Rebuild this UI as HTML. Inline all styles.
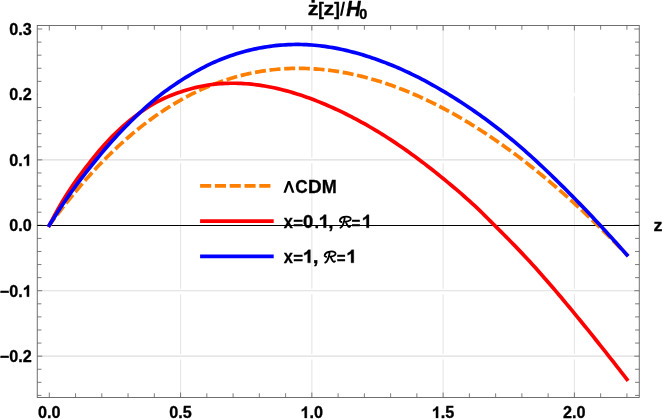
<!DOCTYPE html>
<html><head><meta charset="utf-8"><title>plot</title>
<style>
html,body{margin:0;padding:0;background:#fff;}
body{width:664px;height:419px;position:relative;overflow:hidden;font-family:"Liberation Sans",sans-serif;}
svg{position:absolute;left:0;top:0;will-change:transform;}
svg text{font-family:"Liberation Sans",sans-serif;}
</style></head><body>
<svg width="664" height="419" viewBox="0 0 664 419"><line x1="180.57" y1="25.5" x2="180.57" y2="397.5" stroke="#e6e6e6" stroke-width="1.1"/><line x1="311.85" y1="25.5" x2="311.85" y2="397.5" stroke="#e6e6e6" stroke-width="1.1"/><line x1="443.13" y1="25.5" x2="443.13" y2="397.5" stroke="#e6e6e6" stroke-width="1.1"/><line x1="574.40" y1="25.5" x2="574.40" y2="397.5" stroke="#e6e6e6" stroke-width="1.1"/><line x1="37.85" y1="160.57" x2="638.65" y2="160.57" stroke="#fff" stroke-width="5.5"/><line x1="37.85" y1="291.43" x2="638.65" y2="291.43" stroke="#fff" stroke-width="5.5"/><line x1="37.85" y1="356.86" x2="638.65" y2="356.86" stroke="#fff" stroke-width="5.5"/><line x1="37.25" y1="159.87" x2="639.25" y2="159.87" stroke="#dedede" stroke-width="1.2"/><line x1="37.25" y1="290.73" x2="639.25" y2="290.73" stroke="#dedede" stroke-width="1.2"/><line x1="37.25" y1="356.16" x2="639.25" y2="356.16" stroke="#dedede" stroke-width="1.2"/><path d="M49.30,397.5v-5.0 M49.30,25.5v5.0 M75.56,397.5v-4.2 M75.56,25.5v4.2 M101.81,397.5v-4.2 M101.81,25.5v4.2 M128.06,397.5v-4.2 M128.06,25.5v4.2 M154.32,397.5v-4.2 M154.32,25.5v4.2 M180.57,397.5v-5.0 M180.57,25.5v5.0 M206.83,397.5v-4.2 M206.83,25.5v4.2 M233.08,397.5v-4.2 M233.08,25.5v4.2 M259.34,397.5v-4.2 M259.34,25.5v4.2 M285.60,397.5v-4.2 M285.60,25.5v4.2 M311.85,397.5v-5.0 M311.85,25.5v5.0 M338.11,397.5v-4.2 M338.11,25.5v4.2 M364.36,397.5v-4.2 M364.36,25.5v4.2 M390.62,397.5v-4.2 M390.62,25.5v4.2 M416.87,397.5v-4.2 M416.87,25.5v4.2 M443.13,397.5v-5.0 M443.13,25.5v5.0 M469.38,397.5v-4.2 M469.38,25.5v4.2 M495.63,397.5v-4.2 M495.63,25.5v4.2 M521.89,397.5v-4.2 M521.89,25.5v4.2 M548.14,397.5v-4.2 M548.14,25.5v4.2 M574.40,397.5v-5.0 M574.40,25.5v5.0 M600.65,397.5v-4.2 M600.65,25.5v4.2 M626.91,397.5v-4.2 M626.91,25.5v4.2 M37.25,395.42h4.2 M639.25,395.42h-4.2 M37.25,382.33h4.2 M639.25,382.33h-4.2 M37.25,369.25h4.2 M639.25,369.25h-4.2 M37.25,356.16h5.0 M639.25,356.16h-5.0 M37.25,343.07h4.2 M639.25,343.07h-4.2 M37.25,329.99h4.2 M639.25,329.99h-4.2 M37.25,316.90h4.2 M639.25,316.90h-4.2 M37.25,303.82h4.2 M639.25,303.82h-4.2 M37.25,290.73h5.0 M639.25,290.73h-5.0 M37.25,277.64h4.2 M639.25,277.64h-4.2 M37.25,264.56h4.2 M639.25,264.56h-4.2 M37.25,251.47h4.2 M639.25,251.47h-4.2 M37.25,238.39h4.2 M639.25,238.39h-4.2 M37.25,225.30h5.0 M639.25,225.30h-5.0 M37.25,212.21h4.2 M639.25,212.21h-4.2 M37.25,199.13h4.2 M639.25,199.13h-4.2 M37.25,186.04h4.2 M639.25,186.04h-4.2 M37.25,172.96h4.2 M639.25,172.96h-4.2 M37.25,159.87h5.0 M639.25,159.87h-5.0 M37.25,146.78h4.2 M639.25,146.78h-4.2 M37.25,133.70h4.2 M639.25,133.70h-4.2 M37.25,120.61h4.2 M639.25,120.61h-4.2 M37.25,107.53h4.2 M639.25,107.53h-4.2 M37.25,94.44h5.0 M639.25,94.44h-5.0 M37.25,81.35h4.2 M639.25,81.35h-4.2 M37.25,68.27h4.2 M639.25,68.27h-4.2 M37.25,55.18h4.2 M639.25,55.18h-4.2 M37.25,42.10h4.2 M639.25,42.10h-4.2 M37.25,29.01h5.0 M639.25,29.01h-5.0" stroke="#4a4a4a" stroke-width="0.72" fill="none"/><line x1="37.95" y1="94.44" x2="638.55" y2="94.44" stroke="#fff" stroke-width="4"/><rect x="37.25" y="25.5" width="602.0" height="372.0" fill="none" stroke="#5c5c5c" stroke-width="0.88"/><line x1="37.25" y1="225.55" x2="639.25" y2="225.55" stroke="#000" stroke-width="1.1"/><path d="M49.30,225.30 L51.93,221.72 L54.55,218.19 L57.18,214.71 L59.80,211.27 L62.43,207.88 L65.05,204.53 L67.68,201.23 L70.30,197.97 L72.93,194.75 L75.56,191.59 L78.18,188.46 L80.81,185.39 L83.43,182.35 L86.06,179.37 L88.68,176.42 L91.31,173.52 L93.93,170.67 L96.56,167.86 L99.18,165.09 L101.81,162.36 L104.44,159.68 L107.06,157.05 L109.69,154.45 L112.31,151.90 L114.94,149.40 L117.56,146.93 L120.19,144.51 L122.81,142.13 L125.44,139.79 L128.06,137.50 L130.69,135.24 L133.32,133.03 L135.94,130.86 L138.57,128.73 L141.19,126.64 L143.82,124.59 L146.44,122.58 L149.07,120.62 L151.69,118.69 L154.32,116.80 L156.95,114.96 L159.57,113.15 L162.20,111.38 L164.82,109.65 L167.45,107.96 L170.07,106.31 L172.70,104.70 L175.32,103.12 L177.95,101.58 L180.57,100.08 L183.20,98.62 L185.83,97.20 L188.45,95.81 L191.08,94.46 L193.70,93.15 L196.33,91.87 L198.95,90.63 L201.58,89.42 L204.20,88.25 L206.83,87.12 L209.46,86.02 L212.08,84.96 L214.71,83.93 L217.33,82.94 L219.96,81.98 L222.58,81.06 L225.21,80.17 L227.83,79.31 L230.46,78.49 L233.09,77.70 L235.71,76.94 L238.34,76.22 L240.96,75.53 L243.59,74.88 L246.21,74.25 L248.84,73.66 L251.46,73.10 L254.09,72.58 L256.71,72.08 L259.34,71.62 L261.97,71.19 L264.59,70.78 L267.22,70.42 L269.84,70.08 L272.47,69.77 L275.09,69.49 L277.72,69.24 L280.34,69.03 L282.97,68.84 L285.60,68.68 L288.22,68.55 L290.85,68.46 L293.47,68.39 L296.10,68.35 L298.72,68.34 L301.35,68.36 L303.97,68.40 L306.60,68.48 L309.22,68.58 L311.85,68.71 L314.48,68.87 L317.10,69.06 L319.73,69.28 L322.35,69.52 L324.98,69.79 L327.60,70.09 L330.23,70.42 L332.85,70.77 L335.48,71.15 L338.11,71.55 L340.73,71.99 L343.36,72.44 L345.98,72.93 L348.61,73.44 L351.23,73.98 L353.86,74.54 L356.48,75.13 L359.11,75.75 L361.73,76.39 L364.36,77.05 L366.99,77.74 L369.61,78.46 L372.24,79.20 L374.86,79.96 L377.49,80.76 L380.11,81.57 L382.74,82.41 L385.36,83.28 L387.99,84.16 L390.62,85.08 L393.24,86.01 L395.87,86.97 L398.49,87.96 L401.12,88.97 L403.74,90.00 L406.37,91.05 L408.99,92.13 L411.62,93.24 L414.24,94.36 L416.87,95.51 L419.50,96.68 L422.12,97.88 L424.75,99.09 L427.37,100.33 L430.00,101.60 L432.62,102.88 L435.25,104.19 L437.87,105.52 L440.50,106.87 L443.13,108.24 L445.75,109.64 L448.38,111.06 L451.00,112.50 L453.63,113.96 L456.25,115.44 L458.88,116.95 L461.50,118.48 L464.13,120.02 L466.75,121.59 L469.38,123.18 L472.01,124.80 L474.63,126.43 L477.26,128.08 L479.88,129.76 L482.51,131.45 L485.13,133.17 L487.76,134.91 L490.38,136.66 L493.01,138.44 L495.63,140.24 L498.26,142.06 L500.89,143.90 L503.51,145.76 L506.14,147.64 L508.76,149.54 L511.39,151.46 L514.01,153.40 L516.64,155.36 L519.26,157.34 L521.89,159.34 L524.52,161.36 L527.14,163.39 L529.77,165.45 L532.39,167.53 L535.02,169.63 L537.64,171.74 L540.27,173.88 L542.89,176.03 L545.52,178.21 L548.15,180.40 L550.77,182.61 L553.40,184.84 L556.02,187.09 L558.65,189.36 L561.27,191.65 L563.90,193.96 L566.52,196.28 L569.15,198.62 L571.77,200.99 L574.40,203.37 L577.03,205.77 L579.65,208.18 L582.28,210.62 L584.90,213.07 L587.53,215.55 L590.15,218.04 L592.78,220.55 L595.40,223.07 L598.03,225.62 L600.65,228.18 L603.28,230.76 L605.91,233.36 L608.53,235.97 L611.16,238.61 L613.78,241.26 L616.41,243.93 L619.03,246.62 L621.66,249.32 L624.28,252.04 L626.91,254.78" fill="none" stroke="#ff7f00" stroke-width="3.7" stroke-dasharray="7.345 7.345" stroke-linecap="square" stroke-linejoin="round"/><path d="M49.30,225.30 L51.93,220.27 L54.55,215.38 L57.18,210.63 L59.80,206.01 L62.43,201.51 L65.05,197.17 L67.68,193.00 L70.30,188.98 L72.93,185.10 L75.56,181.35 L78.18,177.70 L80.81,174.14 L83.43,170.66 L86.06,167.23 L88.68,163.84 L91.31,160.48 L93.93,157.17 L96.56,153.94 L99.18,150.81 L101.81,147.76 L104.44,144.79 L107.06,141.91 L109.69,139.12 L112.31,136.41 L114.94,133.78 L117.56,131.23 L120.19,128.77 L122.81,126.38 L125.44,124.08 L128.06,121.85 L130.69,119.70 L133.32,117.61 L135.94,115.60 L138.57,113.65 L141.19,111.77 L143.82,109.96 L146.44,108.21 L149.07,106.54 L151.69,104.94 L154.32,103.41 L156.95,101.95 L159.57,100.56 L162.20,99.24 L164.82,98.00 L167.45,96.83 L170.07,95.73 L172.70,94.69 L175.32,93.71 L177.95,92.78 L180.57,91.89 L183.20,91.04 L185.83,90.22 L188.45,89.45 L191.08,88.72 L193.70,88.03 L196.33,87.38 L198.95,86.78 L201.58,86.22 L204.20,85.71 L206.83,85.25 L209.46,84.84 L212.08,84.48 L214.71,84.18 L217.33,83.92 L219.96,83.71 L222.58,83.53 L225.21,83.40 L227.83,83.31 L230.46,83.25 L233.09,83.24 L235.71,83.27 L238.34,83.33 L240.96,83.43 L243.59,83.57 L246.21,83.75 L248.84,83.96 L251.46,84.21 L254.09,84.50 L256.71,84.82 L259.34,85.17 L261.97,85.56 L264.59,85.99 L267.22,86.45 L269.84,86.95 L272.47,87.48 L275.09,88.04 L277.72,88.63 L280.34,89.26 L282.97,89.92 L285.60,90.61 L288.22,91.33 L290.85,92.08 L293.47,92.86 L296.10,93.66 L298.72,94.50 L301.35,95.36 L303.97,96.25 L306.60,97.17 L309.22,98.11 L311.85,99.08 L314.48,100.07 L317.10,101.10 L319.73,102.14 L322.35,103.21 L324.98,104.31 L327.60,105.43 L330.23,106.58 L332.85,107.75 L335.48,108.95 L338.11,110.17 L340.73,111.42 L343.36,112.69 L345.98,113.99 L348.61,115.31 L351.23,116.65 L353.86,118.02 L356.48,119.41 L359.11,120.83 L361.73,122.27 L364.36,123.73 L366.99,125.22 L369.61,126.73 L372.24,128.26 L374.86,129.82 L377.49,131.40 L380.11,133.01 L382.74,134.64 L385.36,136.29 L387.99,137.97 L390.62,139.67 L393.24,141.40 L395.87,143.14 L398.49,144.92 L401.12,146.71 L403.74,148.53 L406.37,150.38 L408.99,152.24 L411.62,154.13 L414.24,156.04 L416.87,157.97 L419.50,159.93 L422.12,161.90 L424.75,163.90 L427.37,165.92 L430.00,167.96 L432.62,170.03 L435.25,172.11 L437.87,174.22 L440.50,176.34 L443.13,178.49 L445.75,180.65 L448.38,182.82 L451.00,185.01 L453.63,187.22 L456.25,189.44 L458.88,191.69 L461.50,193.95 L464.13,196.24 L466.75,198.56 L469.38,200.91 L472.01,203.29 L474.63,205.70 L477.26,208.16 L479.88,210.68 L482.51,213.24 L485.13,215.84 L487.76,218.46 L490.38,221.09 L493.01,223.72 L495.63,226.34 L498.26,228.95 L500.89,231.57 L503.51,234.20 L506.14,236.85 L508.76,239.51 L511.39,242.19 L514.01,244.89 L516.64,247.61 L519.26,250.35 L521.89,253.12 L524.52,255.91 L527.14,258.72 L529.77,261.57 L532.39,264.44 L535.02,267.35 L537.64,270.29 L540.27,273.24 L542.89,276.21 L545.52,279.21 L548.15,282.22 L550.77,285.25 L553.40,288.30 L556.02,291.37 L558.65,294.46 L561.27,297.56 L563.90,300.69 L566.52,303.83 L569.15,306.98 L571.77,310.16 L574.40,313.35 L577.03,316.55 L579.65,319.77 L582.28,322.99 L584.90,326.21 L587.53,329.45 L590.15,332.70 L592.78,335.96 L595.40,339.24 L598.03,342.52 L600.65,345.81 L603.28,349.12 L605.91,352.44 L608.53,355.78 L611.16,359.12 L613.78,362.48 L616.41,365.84 L619.03,369.20 L621.66,372.58 L624.28,375.96 L626.91,379.35" fill="none" stroke="#ff0000" stroke-width="3.7" stroke-linecap="square" stroke-linejoin="round"/><path d="M49.30,225.30 L51.93,221.08 L54.55,216.92 L57.18,212.83 L59.80,208.81 L62.43,204.84 L65.05,200.96 L67.68,197.15 L70.30,193.43 L72.93,189.78 L75.56,186.20 L78.18,182.67 L80.81,179.21 L83.43,175.79 L86.06,172.42 L88.68,169.09 L91.31,165.79 L93.93,162.52 L96.56,159.27 L99.18,156.06 L101.81,152.90 L104.44,149.79 L107.06,146.74 L109.69,143.74 L112.31,140.79 L114.94,137.89 L117.56,135.04 L120.19,132.24 L122.81,129.48 L125.44,126.78 L128.06,124.13 L130.69,121.52 L133.32,118.96 L135.94,116.43 L138.57,113.93 L141.19,111.48 L143.82,109.07 L146.44,106.70 L149.07,104.38 L151.69,102.12 L154.32,99.90 L156.95,97.74 L159.57,95.63 L162.20,93.58 L164.82,91.60 L167.45,89.67 L170.07,87.79 L172.70,85.95 L175.32,84.15 L177.95,82.41 L180.57,80.70 L183.20,79.04 L185.83,77.41 L188.45,75.81 L191.08,74.25 L193.70,72.73 L196.33,71.24 L198.95,69.79 L201.58,68.39 L204.20,67.02 L206.83,65.70 L209.46,64.43 L212.08,63.20 L214.71,62.01 L217.33,60.88 L219.96,59.78 L222.58,58.72 L225.21,57.71 L227.83,56.73 L230.46,55.80 L233.09,54.90 L235.71,54.05 L238.34,53.23 L240.96,52.45 L243.59,51.71 L246.21,51.01 L248.84,50.34 L251.46,49.71 L254.09,49.12 L256.71,48.57 L259.34,48.05 L261.97,47.57 L264.59,47.12 L267.22,46.71 L269.84,46.34 L272.47,46.00 L275.09,45.70 L277.72,45.43 L280.34,45.19 L282.97,44.98 L285.60,44.81 L288.22,44.67 L290.85,44.57 L293.47,44.50 L296.10,44.46 L298.72,44.46 L301.35,44.50 L303.97,44.57 L306.60,44.68 L309.22,44.82 L311.85,45.00 L314.48,45.22 L317.10,45.47 L319.73,45.75 L322.35,46.07 L324.98,46.42 L327.60,46.81 L330.23,47.23 L332.85,47.68 L335.48,48.16 L338.11,48.67 L340.73,49.21 L343.36,49.78 L345.98,50.38 L348.61,51.01 L351.23,51.67 L353.86,52.36 L356.48,53.07 L359.11,53.81 L361.73,54.58 L364.36,55.38 L366.99,56.20 L369.61,57.04 L372.24,57.91 L374.86,58.81 L377.49,59.73 L380.11,60.68 L382.74,61.65 L385.36,62.64 L387.99,63.67 L390.62,64.72 L393.24,65.79 L395.87,66.89 L398.49,68.02 L401.12,69.18 L403.74,70.36 L406.37,71.56 L408.99,72.79 L411.62,74.05 L414.24,75.33 L416.87,76.64 L419.50,77.97 L422.12,79.33 L424.75,80.72 L427.37,82.12 L430.00,83.55 L432.62,85.01 L435.25,86.49 L437.87,88.00 L440.50,89.53 L443.13,91.08 L445.75,92.66 L448.38,94.25 L451.00,95.87 L453.63,97.51 L456.25,99.17 L458.88,100.84 L461.50,102.55 L464.13,104.27 L466.75,106.01 L469.38,107.78 L472.01,109.57 L474.63,111.38 L477.26,113.21 L479.88,115.07 L482.51,116.95 L485.13,118.86 L487.76,120.78 L490.38,122.73 L493.01,124.71 L495.63,126.71 L498.26,128.73 L500.89,130.78 L503.51,132.86 L506.14,134.96 L508.76,137.08 L511.39,139.24 L514.01,141.42 L516.64,143.64 L519.26,145.88 L521.89,148.15 L524.52,150.45 L527.14,152.78 L529.77,155.13 L532.39,157.50 L535.02,159.91 L537.64,162.33 L540.27,164.78 L542.89,167.24 L545.52,169.73 L548.15,172.24 L550.77,174.77 L553.40,177.32 L556.02,179.88 L558.65,182.47 L561.27,185.06 L563.90,187.68 L566.52,190.31 L569.15,192.95 L571.77,195.60 L574.40,198.27 L577.03,200.95 L579.65,203.64 L582.28,206.35 L584.90,209.08 L587.53,211.83 L590.15,214.59 L592.78,217.37 L595.40,220.17 L598.03,222.99 L600.65,225.83 L603.28,228.68 L605.91,231.54 L608.53,234.41 L611.16,237.29 L613.78,240.18 L616.41,243.09 L619.03,246.01 L621.66,248.94 L624.28,251.89 L626.91,254.86" fill="none" stroke="#0000ff" stroke-width="3.7" stroke-linecap="square" stroke-linejoin="round"/><line x1="201.95" y1="185.85" x2="271.85" y2="185.85" stroke="#ff7f00" stroke-width="3.7" stroke-dasharray="7.4 7.4" stroke-linecap="square"/><line x1="201.95" y1="221.2" x2="271.85" y2="221.2" stroke="#ff0000" stroke-width="3.7" stroke-linecap="square"/><line x1="201.95" y1="256.4" x2="271.85" y2="256.4" stroke="#0000ff" stroke-width="3.7" stroke-linecap="square"/><g font-family="Liberation Sans, sans-serif" font-weight="bold" fill="#000" stroke="#000" stroke-width="0.32" stroke-linejoin="round"><text x="37.94" y="417.95" font-size="16.2" >0</text><text x="46.95" y="417.95" font-size="16.2" >.</text><text x="51.45" y="417.95" font-size="16.2" >0</text><text x="169.21" y="417.95" font-size="16.2" >0</text><text x="178.22" y="417.95" font-size="16.2" >.</text><text x="182.73" y="417.95" font-size="16.2" >5</text><path transform="translate(300.49,417.95) scale(16.200,16.2)" d="M0.394,0 L0.257,0 L0.257,-0.506 Q0.181,-0.437 0.079,-0.404 L0.079,-0.526 Q0.133,-0.543 0.196,-0.591 Q0.259,-0.639 0.282,-0.703 L0.394,-0.703 Z" stroke-width="0.0198"/><text x="309.50" y="417.95" font-size="16.2" >.</text><text x="314.00" y="417.95" font-size="16.2" >0</text><path transform="translate(431.77,417.95) scale(16.200,16.2)" d="M0.394,0 L0.257,0 L0.257,-0.506 Q0.181,-0.437 0.079,-0.404 L0.079,-0.526 Q0.133,-0.543 0.196,-0.591 Q0.259,-0.639 0.282,-0.703 L0.394,-0.703 Z" stroke-width="0.0198"/><text x="440.77" y="417.95" font-size="16.2" >.</text><text x="445.27" y="417.95" font-size="16.2" >5</text><text x="563.04" y="417.95" font-size="16.2" >2</text><text x="572.05" y="417.95" font-size="16.2" >.</text><text x="576.55" y="417.95" font-size="16.2" >0</text><text x="9.18" y="34.91" font-size="16.2" >0</text><text x="18.19" y="34.91" font-size="16.2" >.</text><text x="22.69" y="34.91" font-size="16.2" >3</text><text x="9.18" y="100.34" font-size="16.2" >0</text><text x="18.19" y="100.34" font-size="16.2" >.</text><text x="22.69" y="100.34" font-size="16.2" >2</text><text x="9.18" y="165.77" font-size="16.2" >0</text><text x="18.19" y="165.77" font-size="16.2" >.</text><path transform="translate(22.69,165.77) scale(16.200,16.2)" d="M0.394,0 L0.257,0 L0.257,-0.506 Q0.181,-0.437 0.079,-0.404 L0.079,-0.526 Q0.133,-0.543 0.196,-0.591 Q0.259,-0.639 0.282,-0.703 L0.394,-0.703 Z" stroke-width="0.0198"/><text x="9.18" y="231.20" font-size="16.2" >0</text><text x="18.19" y="231.20" font-size="16.2" >.</text><text x="22.69" y="231.20" font-size="16.2" >0</text><text x="-0.28" y="296.63" font-size="16.2" >−</text><text x="9.18" y="296.63" font-size="16.2" >0</text><text x="18.19" y="296.63" font-size="16.2" >.</text><path transform="translate(22.69,296.63) scale(16.200,16.2)" d="M0.394,0 L0.257,0 L0.257,-0.506 Q0.181,-0.437 0.079,-0.404 L0.079,-0.526 Q0.133,-0.543 0.196,-0.591 Q0.259,-0.639 0.282,-0.703 L0.394,-0.703 Z" stroke-width="0.0198"/><text x="-0.28" y="362.06" font-size="16.2" >−</text><text x="9.18" y="362.06" font-size="16.2" >0</text><text x="18.19" y="362.06" font-size="16.2" >.</text><text x="22.69" y="362.06" font-size="16.2" >2</text><text transform="translate(653.59,230.90) scale(1.120,1)" font-size="16" >z</text><polygon points="283.45,192.85 287.75,180.95 290.1,180.95 294.4,192.85 292.0,192.85 288.93,184.2 285.85,192.85" stroke="none"/><text transform="translate(295.25,192.85) scale(0.921,1)" font-size="18.6" >C</text><text transform="translate(308.04,192.85) scale(1.013,1)" font-size="18.6" >D</text><text transform="translate(321.74,192.85) scale(0.969,1)" font-size="18.6" >M</text><text transform="translate(283.75,227.75) scale(0.880,1)" font-size="18.6" >x</text><text transform="translate(293.35,229.15) scale(0.974,1)" font-size="17.2" >=</text><text transform="translate(303.12,227.75) scale(0.995,1)" font-size="18.6" >0</text><text transform="translate(314.43,227.75) scale(0.880,1)" font-size="18.6" >.</text><path transform="translate(318.52,227.75) scale(19.365,18.6)" d="M0.394,0 L0.257,0 L0.257,-0.506 Q0.181,-0.437 0.079,-0.404 L0.079,-0.526 Q0.133,-0.543 0.196,-0.591 Q0.259,-0.639 0.282,-0.703 L0.394,-0.703 Z" stroke-width="0.0172"/><text transform="translate(328.37,227.75) scale(1.015,1)" font-size="18.6" >,</text><path transform="translate(339.5,216.3) scale(0.95)" d="M2.0,6.0 C0.8,5.8 0.2,5.0 0.4,4.2 C0.8,2.4 2.6,1.0 4.6,0.6 C6.5,0.2 9.5,0.2 11.0,1.2 C12.3,2.1 12.0,3.6 10.6,4.5 C9.5,5.2 8.0,5.6 6.6,5.7 C7.2,7.5 8.2,9.5 9.2,10.6 C9.8,11.3 10.6,11.6 11.2,10.6 M5.6,0.9 C5.4,3.5 4.6,7.0 3.2,9.8 C2.7,10.8 2.0,11.6 1.0,12.0" fill="none" stroke="#000" stroke-width="1.9" stroke-linecap="round" stroke-linejoin="round"/><text transform="translate(351.62,229.15) scale(0.881,1)" font-size="17.2" >=</text><path transform="translate(361.70,227.75) scale(18.413,18.6)" d="M0.394,0 L0.257,0 L0.257,-0.506 Q0.181,-0.437 0.079,-0.404 L0.079,-0.526 Q0.133,-0.543 0.196,-0.591 Q0.259,-0.639 0.282,-0.703 L0.394,-0.703 Z" stroke-width="0.0172"/><text transform="translate(283.75,262.85) scale(0.880,1)" font-size="18.6" >x</text><text transform="translate(293.35,264.25) scale(0.974,1)" font-size="17.2" >=</text><path transform="translate(302.72,262.85) scale(19.365,18.6)" d="M0.394,0 L0.257,0 L0.257,-0.506 Q0.181,-0.437 0.079,-0.404 L0.079,-0.526 Q0.133,-0.543 0.196,-0.591 Q0.259,-0.639 0.282,-0.703 L0.394,-0.703 Z" stroke-width="0.0172"/><text transform="translate(312.70,262.85) scale(1.120,1)" font-size="18.6" >,</text><path transform="translate(324.3,251.20000000000002) scale(0.95)" d="M2.0,6.0 C0.8,5.8 0.2,5.0 0.4,4.2 C0.8,2.4 2.6,1.0 4.6,0.6 C6.5,0.2 9.5,0.2 11.0,1.2 C12.3,2.1 12.0,3.6 10.6,4.5 C9.5,5.2 8.0,5.6 6.6,5.7 C7.2,7.5 8.2,9.5 9.2,10.6 C9.8,11.3 10.6,11.6 11.2,10.6 M5.6,0.9 C5.4,3.5 4.6,7.0 3.2,9.8 C2.7,10.8 2.0,11.6 1.0,12.0" fill="none" stroke="#000" stroke-width="1.9" stroke-linecap="round" stroke-linejoin="round"/><text transform="translate(336.63,264.25) scale(0.880,1)" font-size="17.2" >=</text><path transform="translate(346.12,262.85) scale(19.365,18.6)" d="M0.394,0 L0.257,0 L0.257,-0.506 Q0.181,-0.437 0.079,-0.404 L0.079,-0.526 Q0.133,-0.543 0.196,-0.591 Q0.259,-0.639 0.282,-0.703 L0.394,-0.703 Z" stroke-width="0.0172"/></g><g font-family="Liberation Sans, sans-serif" font-weight="bold" fill="#000" stroke="#000" stroke-width="0.4" stroke-linejoin="round"><text transform="translate(307.84,15.3) scale(1.13,1)" font-size="19.0" >z</text><rect x="311.7" y="-0.5" width="2.9" height="3.0"/><text transform="translate(318.16,15.4) scale(0.93,1)" font-size="18" >[</text><text transform="translate(323.54,15.3) scale(1.13,1)" font-size="19.0" >z</text><text transform="translate(334.33,15.4) scale(0.93,1)" font-size="18" >]</text><polygon points="340.0,15.7 342.1,15.7 345.0,1.8 342.9,1.8" stroke="none"/><text transform="translate(346.20,15.5) scale(0.935,1)" font-size="21.2" font-style="italic">H</text><text transform="translate(359.37,19.15) scale(0.97,1)" font-size="14.9" >0</text></g></svg>
</body></html>
